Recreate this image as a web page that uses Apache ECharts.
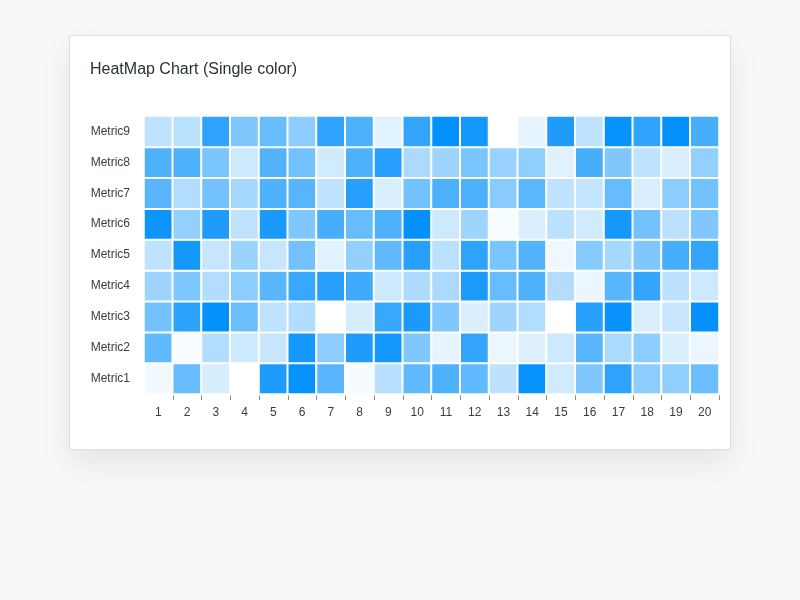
<!DOCTYPE html>
<html><head><meta charset="utf-8">
<script src="https://cdn.jsdelivr.net/npm/echarts@6/dist/echarts.min.js"></script>
<style>html,body{margin:0;padding:0;background:#f8f8f8;}#c{width:800px;height:600px;}</style>
</head><body><div id="c"></div>
<script>
const xLabels = ['1','2','3','4','5','6','7','8','9','10','11','12','13','14','15','16','17','18','19','20'];
const metrics = ['Metric1','Metric2','Metric3','Metric4','Metric5','Metric6','Metric7','Metric8','Metric9'];
const metric1 = [5,60,16,0,88,97,65,4,28,62,70,62,26,97,18,50,82,45,44,58];
const metric2 = [62,3,30,20,22,92,45,88,92,50,10,80,8,13,20,65,33,45,15,8];
const metric3 = [55,83,98,58,25,30,0,16,78,90,50,14,38,30,0,85,97,15,22,98];
const metric4 = [38,50,30,45,65,78,85,75,20,32,33,90,60,70,30,8,65,80,26,20];
const metric5 = [25,92,22,40,22,55,12,42,62,85,27,82,52,68,6,47,35,50,72,80];
const metric6 = [95,42,88,25,90,50,72,60,70,98,20,38,3,14,27,18,92,55,26,50];
const metric7 = [65,30,55,35,70,66,25,85,15,55,70,70,46,64,25,24,60,15,45,55];
const metric8 = [70,70,52,20,68,55,18,70,85,33,38,52,40,44,12,72,50,25,15,42];
const metric9 = [25,27,82,50,60,45,82,70,12,80,98,92,0,10,88,25,97,82,98,72];
const rows = [metric1,metric2,metric3,metric4,metric5,metric6,metric7,metric8,metric9];
const data = [];
rows.forEach((r, yi) => r.forEach((v, xi) => data.push([xi, yi, v])));

const chart = echarts.init(document.getElementById('c'));
chart.setOption({
  backgroundColor: '#f8f8f8',
  animation: false,
  graphic: [{
    type: 'rect', z: -10, silent: true,
    shape: { x: 69.5, y: 35.5, width: 661, height: 414 },
    style: { fill: '#ffffff', stroke: '#dddddd', lineWidth: 1,
      shadowBlur: 30, shadowColor: 'rgba(0,0,0,0.08)', shadowOffsetY: 14 }
  }],
  title: {
    text: 'HeatMap Chart (Single color)', left: 85, top: 57,
    textStyle: { fontFamily: 'Liberation Sans, Arial, sans-serif', fontSize: 16, fontWeight: 'normal', color: '#263238' }
  },
  grid: { left: 144, right: 81, top: 116, bottom: 206 },
  xAxis: {
    type: 'category', data: xLabels,
    axisLine: { lineStyle: { color: '#78909C', width: 1 } },
    axisTick: { show: true, length: 6, interval: function (i) { return i !== 0; }, lineStyle: { color: '#78909C' } },
    axisLabel: { color: '#373d3f', fontSize: 12, margin: 13, fontFamily: 'Liberation Sans, Arial, sans-serif' },
    splitLine: { show: false }
  },
  yAxis: {
    type: 'category', data: metrics,
    axisLine: { show: false }, axisTick: { show: false },
    axisLabel: { color: '#373d3f', fontSize: 12, margin: 14, fontFamily: 'Liberation Sans, Arial, sans-serif' },
    splitLine: { show: false }
  },
  visualMap: {
    show: false, min: 0, max: 100, dimension: 2,
    inRange: { color: ['#ffffff', '#008FFB'] }
  },
  series: [{
    type: 'heatmap', data: data,
    itemStyle: { borderColor: '#ffffff', borderWidth: 2 },
    emphasis: { disabled: true }
  }]
});
</script></body></html>
